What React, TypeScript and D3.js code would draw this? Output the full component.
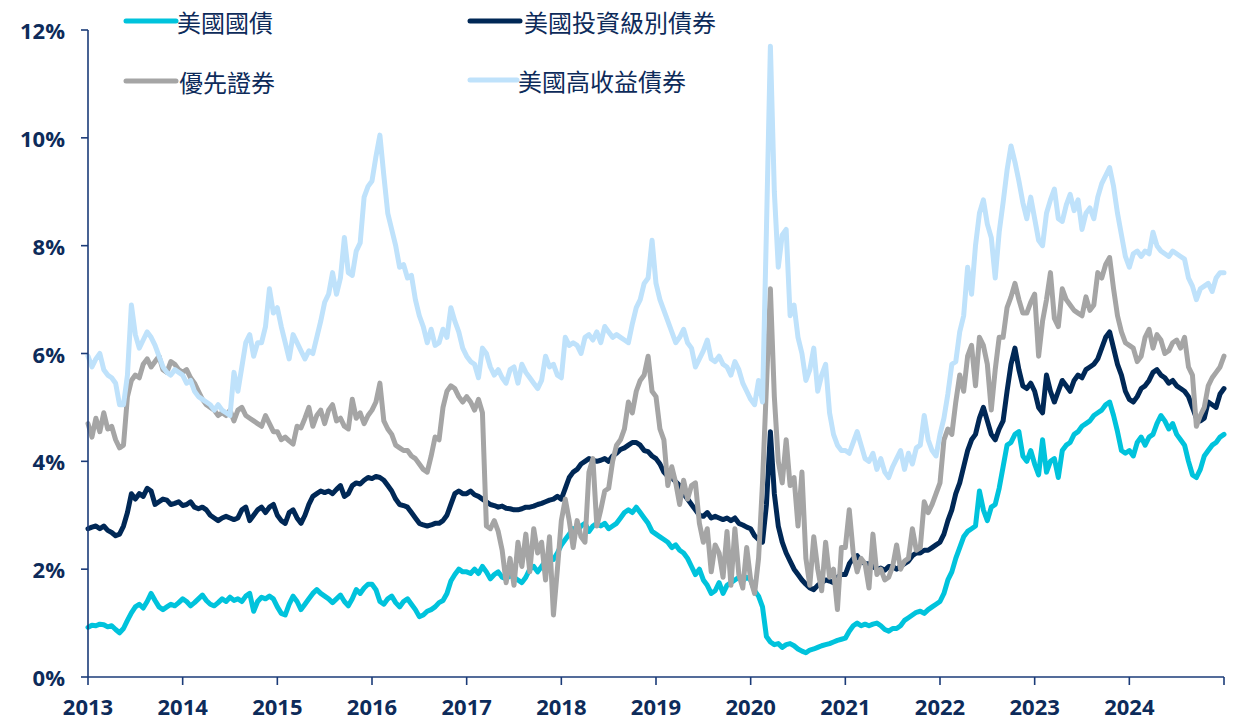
import React from 'react';
import * as d3 from 'd3';

// semi-monthly readings, Jan 2013 .. Jan 2025 (24 per year + final point)
const treasury = [
  // 2013
  0.92, 0.96, 0.95, 0.98, 0.97, 0.93, 0.95, 0.88, 0.82, 0.9, 1.05, 1.19, 1.3, 1.35, 1.28, 1.4, 1.55, 1.42, 1.3, 1.25, 1.3, 1.35, 1.32, 1.38,
  // 2014
  1.45, 1.4, 1.32, 1.38, 1.45, 1.52, 1.42, 1.35, 1.32, 1.38, 1.45, 1.4, 1.48, 1.42, 1.45, 1.4, 1.5, 1.55, 1.22, 1.4, 1.48, 1.45, 1.5, 1.45,
  // 2015
  1.3, 1.18, 1.15, 1.35, 1.5, 1.4, 1.25, 1.35, 1.45, 1.55, 1.62, 1.55, 1.5, 1.45, 1.38, 1.45, 1.52, 1.4, 1.32, 1.45, 1.62, 1.55, 1.65, 1.72,
  // 2016
  1.72, 1.62, 1.4, 1.35, 1.45, 1.5, 1.38, 1.3, 1.4, 1.45, 1.35, 1.25, 1.12, 1.15, 1.22, 1.25, 1.3, 1.38, 1.42, 1.55, 1.78, 1.9, 2.0, 1.95,
  // 2017
  1.95, 1.92, 2.0, 1.92, 2.05, 1.95, 1.82, 1.9, 1.95, 1.85, 1.82, 1.88, 1.85, 1.8, 1.75, 1.85, 2.0, 2.05, 1.95, 2.05, 2.15, 2.2, 2.18, 2.3,
  // 2018
  2.45, 2.55, 2.65, 2.75, 2.7, 2.8, 2.85, 2.7, 2.8, 2.85, 2.8, 2.85, 2.75, 2.8, 2.85, 2.95, 3.05, 3.1, 3.05, 3.15, 3.05, 2.95, 2.85, 2.7,
  // 2019
  2.65, 2.6, 2.55, 2.5, 2.4, 2.45, 2.35, 2.3, 2.2, 2.05, 1.9, 2.0, 1.8, 1.7, 1.55, 1.6, 1.75, 1.55, 1.7, 1.75, 1.8, 1.85, 1.78, 1.85,
  // 2020
  1.8, 1.6, 1.5, 1.3, 0.75, 0.65, 0.6, 0.62, 0.55, 0.6, 0.62, 0.58, 0.52, 0.48, 0.45, 0.5, 0.52, 0.55, 0.58, 0.6, 0.62, 0.65, 0.68, 0.7,
  // 2021
  0.72, 0.85, 0.95, 1.0, 0.95, 0.98, 0.95, 0.98, 1.0, 0.95, 0.88, 0.85, 0.9, 0.9, 0.95, 1.05, 1.1, 1.15, 1.2, 1.22, 1.18, 1.25, 1.3, 1.35,
  // 2022
  1.4, 1.55, 1.8, 1.95, 2.2, 2.4, 2.6, 2.7, 2.75, 2.8, 3.45, 3.1, 2.9, 3.15, 3.2, 3.5, 3.9, 4.3, 4.35, 4.5, 4.55, 4.1, 4.0, 4.2,
  // 2023
  3.95, 3.75, 4.4, 3.8, 4.0, 4.05, 3.7, 4.2, 4.3, 4.35, 4.5, 4.55, 4.65, 4.7, 4.75, 4.85, 4.9, 4.95, 5.05, 5.1, 4.85, 4.55, 4.2, 4.15,
  // 2024
  4.2, 4.1, 4.35, 4.45, 4.3, 4.45, 4.5, 4.7, 4.85, 4.75, 4.6, 4.7, 4.5, 4.4, 4.3, 4.0, 3.75, 3.7, 3.85, 4.1, 4.2, 4.3, 4.35, 4.45,
  4.5,
];

const investmentGrade = [
  2.75, 2.78, 2.8, 2.75, 2.8, 2.72, 2.68, 2.62, 2.65, 2.8, 3.05, 3.4, 3.3, 3.4, 3.35, 3.5, 3.45, 3.2, 3.25, 3.3, 3.28, 3.2, 3.22, 3.25,
  3.18, 3.2, 3.25, 3.15, 3.12, 3.15, 3.1, 3.0, 2.95, 2.9, 2.95, 2.98, 2.95, 2.92, 2.95, 3.1, 3.15, 2.9, 3.0, 3.1, 3.15, 3.05, 3.15, 3.2,
  3.0, 2.9, 2.85, 3.05, 3.1, 2.95, 2.85, 3.0, 3.2, 3.35, 3.4, 3.45, 3.42, 3.45, 3.4, 3.48, 3.55, 3.35, 3.4, 3.55, 3.6, 3.58, 3.65, 3.7,
  3.68, 3.72, 3.7, 3.65, 3.55, 3.45, 3.3, 3.2, 3.18, 3.15, 3.05, 2.95, 2.85, 2.82, 2.8, 2.82, 2.85, 2.85, 2.9, 3.0, 3.2, 3.4, 3.45, 3.4,
  3.4, 3.45, 3.38, 3.35, 3.3, 3.25, 3.2, 3.18, 3.15, 3.17, 3.13, 3.12, 3.1, 3.1, 3.12, 3.15, 3.15, 3.17, 3.2, 3.22, 3.25, 3.28, 3.3, 3.35,
  3.3, 3.5, 3.7, 3.8, 3.85, 3.95, 4.0, 4.05, 4.02, 4.0, 4.02, 4.05, 4.0, 4.1, 4.15, 4.22, 4.25, 4.3, 4.35, 4.35, 4.3, 4.2, 4.18, 4.1,
  4.05, 3.95, 3.8, 3.72, 3.7, 3.62, 3.55, 3.4, 3.3, 3.2, 3.1, 3.0, 2.98, 3.05, 2.95, 2.98, 2.95, 2.92, 2.95, 2.9, 2.95, 2.85, 2.82, 2.78,
  2.75, 2.62, 2.55, 2.5, 3.2, 4.55, 3.4, 2.8, 2.5, 2.3, 2.15, 2.0, 1.9, 1.8, 1.72, 1.65, 1.62, 1.7, 1.75, 1.8, 1.78, 1.75, 1.85, 1.9,
  1.9, 2.1, 2.2, 2.25, 2.15, 2.1, 2.1, 2.05, 2.0, 2.02, 1.98, 2.05, 2.05, 2.0, 2.05, 2.1, 2.15, 2.25, 2.3, 2.3, 2.35, 2.35, 2.4, 2.45,
  2.5, 2.65, 2.9, 3.1, 3.4, 3.6, 3.9, 4.2, 4.4, 4.5, 4.8, 5.0, 4.75, 4.5, 4.4, 4.6, 4.75, 5.3, 5.8, 6.1, 5.7, 5.4, 5.35, 5.45,
  5.3, 5.0, 4.9, 5.6, 5.3, 5.1, 5.3, 5.5, 5.4, 5.3, 5.5, 5.6, 5.55, 5.7, 5.75, 5.8, 5.9, 6.1, 6.3, 6.4, 6.1, 5.8, 5.6, 5.3,
  5.15, 5.1, 5.2, 5.35, 5.4, 5.5, 5.65, 5.7, 5.6, 5.55, 5.45, 5.5, 5.4, 5.35, 5.3, 5.2, 5.0, 4.8, 4.75, 4.8, 5.1, 5.05, 5.0, 5.25,
  5.35,
];

const preferred = [
  4.7, 4.45, 4.8, 4.55, 4.9, 4.6, 4.65, 4.4, 4.25, 4.3, 5.2, 5.5, 5.6, 5.55, 5.8, 5.9, 5.75, 5.85, 5.95, 5.7, 5.65, 5.85, 5.8, 5.7,
  5.65, 5.7, 5.55, 5.45, 5.3, 5.15, 5.05, 5.0, 4.95, 4.85, 4.9, 4.85, 4.95, 4.75, 4.95, 5.0, 4.85, 4.8, 4.75, 4.7, 4.65, 4.85, 4.7, 4.55,
  4.55, 4.4, 4.45, 4.38, 4.32, 4.65, 4.62, 4.8, 5.0, 4.65, 4.85, 4.95, 4.7, 4.95, 5.05, 4.75, 4.8, 4.65, 4.6, 5.15, 4.8, 4.9, 4.7, 4.85,
  4.95, 5.1, 5.45, 4.75, 4.6, 4.5, 4.3, 4.25, 4.2, 4.2, 4.1, 4.05, 3.95, 3.85, 3.8, 4.1, 4.45, 4.4, 5.0, 5.3, 5.4, 5.35, 5.2, 5.1,
  5.2, 5.1, 4.95, 5.15, 4.9, 2.8, 2.75, 2.9, 2.7, 2.35, 1.75, 2.2, 1.7, 2.5, 2.05, 2.65, 1.95, 2.75, 2.3, 2.5, 1.8, 2.6, 1.15, 2.0,
  2.9, 3.3, 2.9, 2.4, 2.9, 2.6, 2.5, 3.8, 4.05, 2.8, 3.1, 3.45, 3.5, 4.0, 4.3, 4.4, 4.6, 5.1, 4.9, 5.3, 5.5, 5.6, 5.95, 5.3,
  5.2, 4.6, 4.4, 3.55, 3.9, 3.6, 3.2, 3.65, 3.3, 3.55, 3.6, 2.85, 2.5, 2.75, 1.95, 2.45, 2.3, 1.85, 2.7, 1.7, 2.75, 1.9, 1.65, 2.4,
  1.8, 1.55, 2.2, 3.6, 5.4, 7.2, 5.2, 4.0, 3.6, 4.4, 3.55, 3.7, 2.8, 3.8, 2.2, 1.7, 2.6, 2.0, 1.6, 2.5, 1.85, 2.0, 1.25, 2.4,
  2.4, 3.1, 2.3, 1.95, 2.2, 2.1, 1.65, 2.65, 1.9, 2.0, 1.8, 1.85, 2.05, 2.45, 2.0, 2.15, 2.2, 2.75, 2.35, 2.4, 3.25, 3.05, 3.2, 3.4,
  3.6, 4.4, 4.6, 4.5, 5.1, 5.6, 5.3, 5.95, 6.15, 5.4, 6.3, 6.15, 5.8, 4.95, 5.7, 6.3, 6.3, 6.85, 7.05, 7.3, 7.0, 6.75, 6.75, 6.95,
  7.1, 5.95, 6.6, 7.0, 7.5, 6.65, 6.5, 7.2, 7.0, 6.9, 6.8, 6.75, 6.7, 7.05, 6.8, 6.9, 7.5, 7.4, 7.65, 7.78, 7.2, 6.7, 6.4, 6.2,
  6.15, 6.1, 5.85, 5.95, 6.3, 6.45, 6.1, 6.35, 6.25, 6.0, 6.05, 6.2, 6.25, 6.1, 6.3, 5.75, 5.6, 4.65, 4.85, 5.0, 5.4, 5.55, 5.65, 5.75,
  5.95,
];

const highYield = [
  5.95, 5.75, 5.9, 6.0, 5.7, 5.6, 5.55, 5.45, 5.05, 5.05, 5.6, 6.9, 6.35, 6.1, 6.25, 6.4, 6.3, 6.15, 5.95, 5.75, 5.65, 5.6, 5.7, 5.65,
  5.6, 5.45, 5.5, 5.3, 5.2, 5.15, 5.1, 5.05, 4.95, 5.05, 4.95, 4.9, 4.85, 5.65, 5.3, 5.75, 6.2, 6.35, 5.95, 6.2, 6.2, 6.5, 7.2, 6.75,
  6.85, 6.5, 6.2, 5.9, 6.35, 6.2, 6.05, 5.9, 6.05, 6.0, 6.3, 6.6, 6.95, 7.1, 7.5, 7.1, 7.4, 8.15, 7.5, 7.45, 7.9, 8.05, 8.9, 9.1,
  9.2, 9.65, 10.05, 9.3, 8.6, 8.3, 8.0, 7.6, 7.65, 7.4, 7.45, 7.0, 6.7, 6.5, 6.2, 6.45, 6.15, 6.2, 6.45, 6.3, 6.85, 6.6, 6.4, 6.1,
  5.95, 5.85, 5.8, 5.55, 6.1, 6.0, 5.75, 5.6, 5.7, 5.55, 5.45, 5.7, 5.75, 5.45, 5.8, 5.65, 5.55, 5.45, 5.35, 5.5, 5.95, 5.75, 5.8, 5.6,
  5.55, 6.3, 6.15, 6.2, 6.15, 6.0, 6.3, 6.35, 6.25, 6.4, 6.2, 6.5, 6.4, 6.3, 6.35, 6.3, 6.25, 6.2, 6.55, 6.85, 7.0, 7.3, 7.4, 8.1,
  7.3, 7.0, 6.8, 6.6, 6.4, 6.2, 6.3, 6.45, 6.2, 6.1, 5.75, 5.9, 6.05, 6.25, 5.9, 5.85, 5.95, 5.8, 5.75, 5.6, 5.85, 5.7, 5.45, 5.3,
  5.15, 5.05, 5.5, 5.1, 8.3, 11.7, 9.0, 7.6, 8.2, 8.3, 6.7, 6.9, 6.3, 6.0, 5.5, 5.7, 6.1, 5.3, 5.6, 5.8, 4.9, 4.5, 4.3, 4.2,
  4.2, 4.15, 4.35, 4.55, 4.3, 4.05, 4.0, 4.15, 3.85, 4.05, 3.8, 3.7, 3.9, 4.05, 4.2, 3.85, 4.15, 3.95, 4.25, 4.3, 4.85, 4.4, 4.2, 4.1,
  4.5, 4.8, 5.25, 5.8, 5.85, 6.4, 6.7, 7.6, 7.1, 8.0, 8.6, 8.85, 8.4, 8.15, 7.4, 8.25, 8.8, 9.4, 9.85, 9.55, 9.2, 8.8, 8.5, 8.9,
  8.5, 8.1, 8.0, 8.6, 8.85, 9.05, 8.5, 8.45, 8.75, 8.95, 8.65, 8.85, 8.3, 8.6, 8.7, 8.5, 8.9, 9.15, 9.3, 9.45, 9.1, 8.6, 8.2, 7.8,
  7.6, 7.85, 7.9, 7.8, 7.9, 7.85, 8.25, 8.0, 7.9, 7.85, 7.8, 7.9, 7.85, 7.8, 7.75, 7.4, 7.25, 7.0, 7.2, 7.25, 7.3, 7.15, 7.4, 7.5,
  7.5,
];

const yearTicks = [2013, 2014, 2015, 2016, 2017, 2018, 2019, 2020, 2021, 2022, 2023, 2024, 2025];
const yTicks = [0, 2, 4, 6, 8, 10, 12];

const seriesList = [
  { name: '美國國債', values: treasury, color: '#00c3dc' },
  { name: '美國投資級別債券', values: investmentGrade, color: '#002856' },
  { name: '優先證券', values: preferred, color: '#a5a5a5' },
  { name: '美國高收益債券', values: highYield, color: '#bfe2fb' },
];

// legend slots: [lineX1, lineX2, textX, y]
const legendPos = [
  [126, 176, 177, 21],
  [470, 520, 524, 21],
  [126, 176, 179, 81],
  [470, 517, 518, 80],
];

const W = 1235;
const H = 720;
const axisColor = '#1b3b78';
const textColor = '#0d2b5a';

export default function App() {
  const x = d3.scaleLinear().domain([2013, 2025]).range([88, 1224]);
  const y = d3.scaleLinear().domain([0, 12]).range([677, 30]);

  const line = d3
    .line<number>()
    .x((_, i) => x(2013 + i / 24))
    .y((d) => y(d));

  return (
    <div style={{ position: 'fixed', left: 0, top: 0, background: '#fff' }}>
      <svg width={W} height={H} style={{ display: 'block' }}>
        {/* series */}
        {seriesList.map((s) => (
          <path
            key={s.name}
            d={line(s.values) || ''}
            fill="none"
            stroke={s.color}
            strokeWidth={5}
            strokeLinejoin="round"
            strokeLinecap="round"
          />
        ))}

        {/* y axis */}
        <line x1={88} x2={88} y1={y(12)} y2={y(0)} stroke={axisColor} strokeWidth={1.6} />
        {yTicks.map((t) => (
          <g key={t}>
            <line x1={81} x2={88} y1={y(t)} y2={y(t)} stroke={axisColor} strokeWidth={1.6} />
            <text
              x={65}
              y={y(t)}
              textAnchor="end"
              dominantBaseline="central"
              fontFamily="'Open Sans', sans-serif"
              fontWeight={700}
              fontSize={22}
              fill={textColor}
            >
              {t}%
            </text>
          </g>
        ))}

        {/* x axis */}
        <line x1={x(2013)} x2={x(2025)} y1={677} y2={677} stroke={axisColor} strokeWidth={1.6} />
        {yearTicks.map((yr) => (
          <g key={yr}>
            <line x1={x(yr)} x2={x(yr)} y1={677} y2={685} stroke={axisColor} strokeWidth={1.6} />
            {yr < 2025 && (
              <text
                x={x(yr)}
                y={706}
                textAnchor="middle"
                dominantBaseline="central"
                fontFamily="'Open Sans', sans-serif"
                fontWeight={700}
                fontSize={22}
                fill={textColor}
              >
                {yr}
              </text>
            )}
          </g>
        ))}

        {/* legend */}
        {seriesList.map((s, i) => {
          const [lx1, lx2, tx, ly] = legendPos[i];
          return (
            <g key={s.name}>
              <line x1={lx1} x2={lx2} y1={ly} y2={ly} stroke={s.color} strokeWidth={5} strokeLinecap="round" />
              <text
                x={tx}
                y={ly}
                dominantBaseline="central"
                fontFamily="'Noto Sans CJK TC', 'Noto Sans CJK SC', sans-serif"
                fontSize={24}
                fill={textColor}
              >
                {s.name}
              </text>
            </g>
          );
        })}
      </svg>
    </div>
  );
}
